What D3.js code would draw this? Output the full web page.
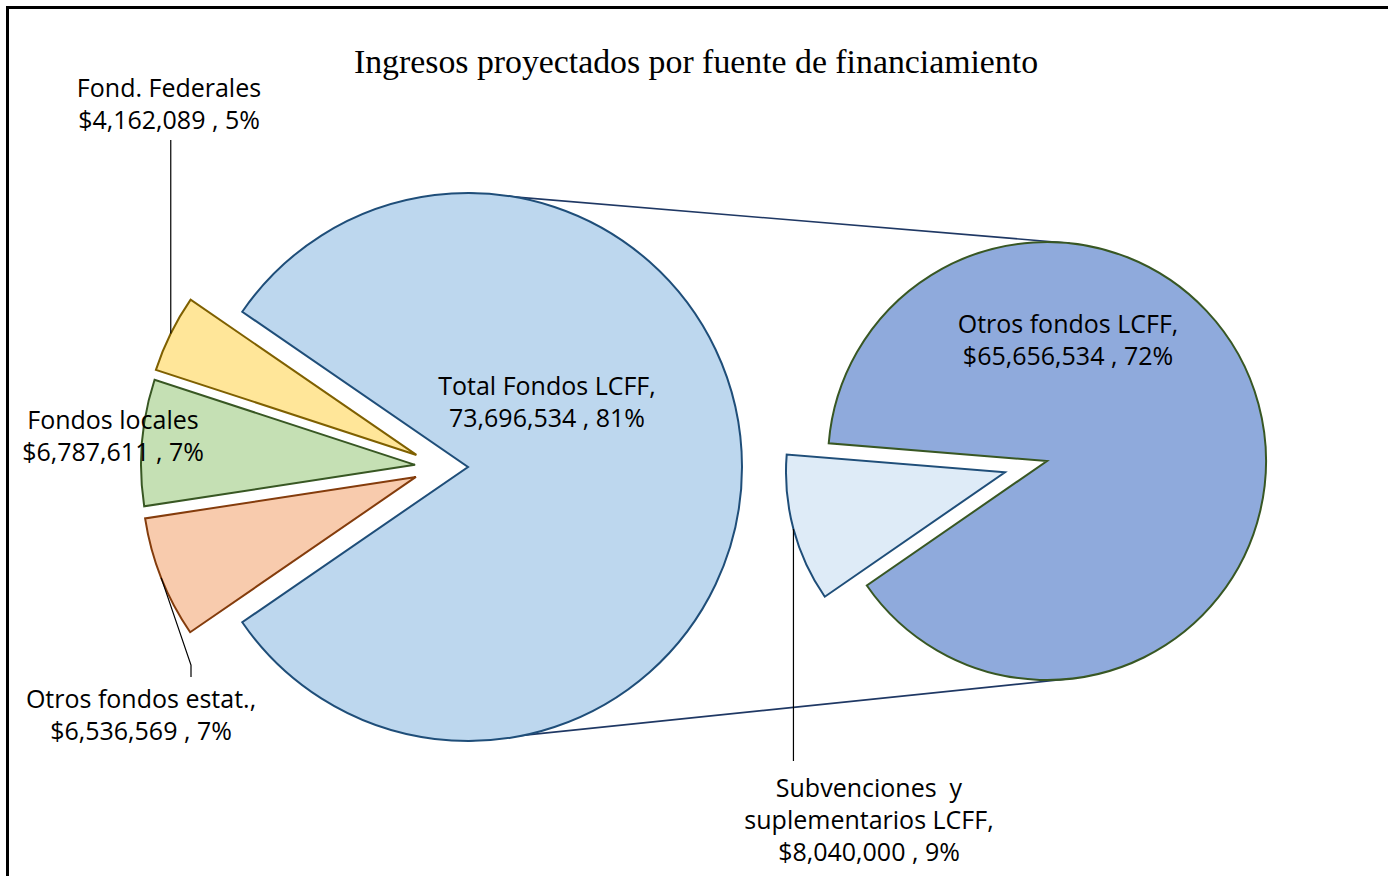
<!DOCTYPE html>
<html lang='es'>
  <head>
    <meta charset='utf-8'>
    <style type='text/css'>
      body {margin: 0; background-color: #fff;}
      svg {display: block;}
      .lbl {font-family: 'Open Sans', Lato, sans-serif; font-size: 25px; fill: #000;}
      .title {font-family: 'Liberation Serif', 'Times New Roman', serif; font-size: 33.8px; fill: #000;}
    </style>
  </head>
  <body>
    <svg id='chart' width='1388' height='876'></svg>
    <script src='https://d3js.org/d3.v7.min.js'></script>
    <script type='text/javascript'>
        // ---- data ----
        var title = "Ingresos proyectados por fuente de financiamiento";

        // first pie (all sources); first entry is the one split out in the second pie
        var mainNames  = ["Total Fondos LCFF,", "Otros fondos estat.,", "Fondos locales", "Fond. Federales"];
        var mainValues = [73696534, 6536569, 6787611, 4162089];
        var mainDollar = [false, true, true, true];

        // second pie (breakdown of Total Fondos LCFF)
        var subNames  = [["Otros fondos LCFF,"], ["Subvenciones  y", "suplementarios LCFF,"]];
        var subValues = [65656534, 8040000];
        var subDollar = [true, true];

        var mainFill   = ["#bdd7ee", "#f8cbad", "#c5e0b4", "#ffe699"];
        var mainStroke = ["#1f4e79", "#843c0c", "#385723", "#7f6000"];
        var subFill    = ["#8faadc", "#deebf7"];
        var subStroke  = ["#385723", "#1f4e79"];

        // ---- layout ----
        var svg = d3.select("#chart");
        var grandTotal = d3.sum(mainValues);
        var fmtNum = d3.format(",");
        var fmtPct = d3.format(".0%");
        var deg = Math.PI / 180;

        var left  = {cx: 468, cy: 467, r: 274};
        var right = {cx: 1047, cy: 461, r: 219};

        // frame
        svg.append("rect")
          .attr("x", 7.5).attr("y", 7.5)
          .attr("width", 1400).attr("height", 900)
          .attr("fill", "none").attr("stroke", "#000").attr("stroke-width", 3);

        svg.append("text").attr("class", "title")
          .attr("x", 696).attr("y", 73)
          .attr("text-anchor", "middle")
          .text(title);

        // pie layouts
        var mainSpan = 2 * Math.PI * mainValues[0] / grandTotal;
        var mainStart = Math.PI / 2 - mainSpan / 2;
        var mainPie = d3.pie().sort(null)
          .startAngle(mainStart).endAngle(mainStart + 2 * Math.PI);
        var mainArcs = mainPie(mainValues);

        var subSpan = 2 * Math.PI * subValues[1] / d3.sum(subValues);
        var subMid = 255 * deg;  // direction of the small slice
        var subStart = subMid + subSpan / 2;
        var subPie = d3.pie().sort(null)
          .startAngle(subStart).endAngle(subStart + 2 * Math.PI);
        var subArcs = subPie(subValues);

        var arcL = d3.arc().innerRadius(0).outerRadius(left.r);
        var arcR = d3.arc().innerRadius(0).outerRadius(right.r);

        function polar(c, r, a) { return [c.cx + r * Math.sin(a), c.cy - r * Math.cos(a)]; }
        function mid(d) { return (d.startAngle + d.endAngle) / 2; }

        // exploded offsets
        function mainOffset(d, i) {
          if (i === 0) return [0, 0];
          var dir = 1.5 * Math.PI + 0.5 * (mid(d) - 1.5 * Math.PI);
          return [53 * Math.sin(dir), -53 * Math.cos(dir)];
        }
        function subOffset(d, i) {
          if (i === 0) return [0, 0];
          return [43.5 * Math.sin(mid(d)), -43.5 * Math.cos(mid(d))];
        }

        // connector lines between the pies
        var tip = 6 * deg;
        var conn = [
          [polar(left, left.r, 0), polar(right, right.r, tip)],
          [polar(left, left.r, Math.PI), polar(right, right.r, Math.PI - tip)]
        ];
        svg.selectAll(".conn").data(conn).enter().append("line")
          .attr("class", "conn")
          .attr("x1", function(d){ return d[0][0]; }).attr("y1", function(d){ return d[0][1]; })
          .attr("x2", function(d){ return d[1][0]; }).attr("y2", function(d){ return d[1][1]; })
          .attr("stroke", "#1f3864").attr("stroke-width", 1.6);

        // slices
        svg.append("g").selectAll("path").data(mainArcs).enter().append("path")
          .attr("transform", function(d, i){
            var o = mainOffset(d, i);
            return "translate(" + (left.cx + o[0]) + "," + (left.cy + o[1]) + ")";
          })
          .attr("d", arcL)
          .attr("fill", function(d, i){ return mainFill[i]; })
          .attr("stroke", function(d, i){ return mainStroke[i]; })
          .attr("stroke-width", 2).attr("stroke-linejoin", "miter");

        svg.append("g").selectAll("path").data(subArcs).enter().append("path")
          .attr("transform", function(d, i){
            var o = subOffset(d, i);
            return "translate(" + (right.cx + o[0]) + "," + (right.cy + o[1]) + ")";
          })
          .attr("d", arcR)
          .attr("fill", function(d, i){ return subFill[i]; })
          .attr("stroke", function(d, i){ return subStroke[i]; })
          .attr("stroke-width", 2).attr("stroke-linejoin", "miter");

        // point on the outer edge at the middle of a slice
        function edgeMain(i) {
          var d = mainArcs[i], o = mainOffset(d, i);
          var p = polar(left, left.r, mid(d));
          return [p[0] + o[0], p[1] + o[1]];
        }
        function edgeSub(i) {
          var d = subArcs[i], o = subOffset(d, i);
          var p = polar(right, right.r, mid(d));
          return [p[0] + o[0], p[1] + o[1]];
        }

        // leader lines
        var line = d3.line();
        var pFed = edgeMain(3);
        var pEst = edgeMain(1);
        var pSub = edgeSub(1);
        var leaders = [
          [pFed, [pFed[0], 140]],
          [pEst, [191, 665], [191, 677]],
          [pSub, [pSub[0], 761]]
        ];
        svg.selectAll(".leader").data(leaders).enter().append("path")
          .attr("class", "leader")
          .attr("d", line)
          .attr("fill", "none").attr("stroke", "#000").attr("stroke-width", 1.2);

        // data labels
        function valueLine(v, dollar) {
          return (dollar ? "$" : "") + fmtNum(v) + " , " + fmtPct(v / grandTotal);
        }
        var labels = [
          {lines: [mainNames[0], valueLine(mainValues[0], mainDollar[0])], x: 547, y: 395},
          {lines: [mainNames[1], valueLine(mainValues[1], mainDollar[1])], x: 141, y: 708},
          {lines: [mainNames[2], valueLine(mainValues[2], mainDollar[2])], x: 113, y: 429},
          {lines: [mainNames[3], valueLine(mainValues[3], mainDollar[3])], x: 169, y: 97},
          {lines: subNames[0].concat([valueLine(subValues[0], subDollar[0])]), x: 1068, y: 333},
          {lines: subNames[1].concat([valueLine(subValues[1], subDollar[1])]), x: 869, y: 797}
        ];
        var lg = svg.selectAll(".lblg").data(labels).enter().append("text")
          .attr("class", "lbl")
          .attr("text-anchor", "middle")
          .attr("xml:space", "preserve");
        lg.selectAll("tspan").data(function(d){
            return d.lines.map(function(t, k){ return {t: t, x: d.x, y: d.y + k * 32}; });
          }).enter().append("tspan")
          .attr("x", function(d){ return d.x; })
          .attr("y", function(d){ return d.y; })
          .text(function(d){ return d.t; });
    </script>
  </body>
</html>
